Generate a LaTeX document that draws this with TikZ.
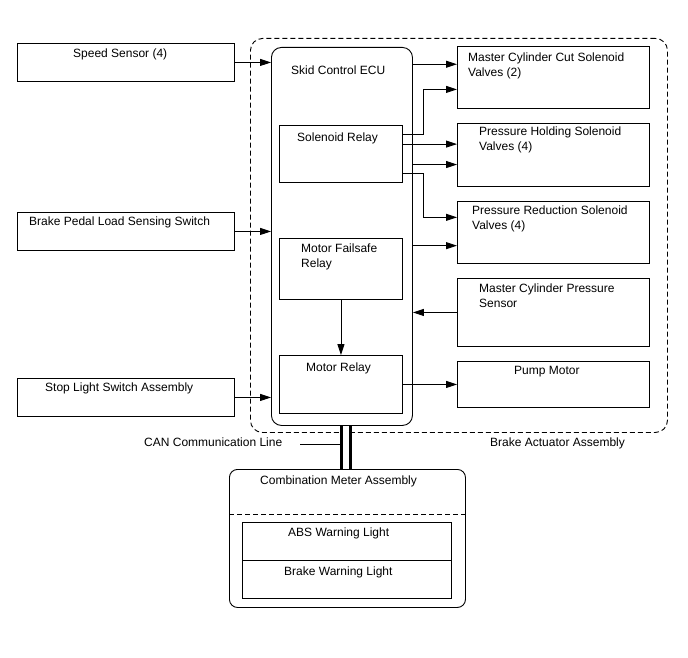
\documentclass[tikz,border=0pt]{standalone}
\usepackage{fontspec}
\setmainfont{Liberation Sans}
\usetikzlibrary{arrows.meta, calc}
\tikzset{
  blk/.style    = {draw, line width=0.9pt, anchor=north west, inner sep=0pt},
  txt/.style    = {anchor=north west, inner sep=0pt, align=left, font=\fontsize{12}{15}\selectfont},
  flecha/.style = {-{Triangle[length=11pt, width=7pt]}, line width=0.9pt},
  linea/.style  = {line width=0.9pt},
  bus/.style    = {line width=3pt, double=white, double distance=6pt}
}

\begin{document}
\begin{tikzpicture}[x=1pt, y=-1pt]
  \useasboundingbox (0,0) rectangle (688,658);

  % actuator and ECU
  \node[blk, dashed, dash pattern=on 5pt off 3pt, rounded corners=12pt,
        minimum width=417pt, minimum height=394pt] (act) at (250,38) {};
  \node[blk, rounded corners=10pt, minimum width=141pt, minimum height=378pt] (ecu) at (271,47) {};
  \node[blk, minimum width=123pt, minimum height=57pt] (sol) at (279,125) {};
  \node[blk, minimum width=123pt, minimum height=61pt] (mfs) at (279,238) {};
  \node[blk, minimum width=123pt, minimum height=58pt] (mrl) at (279,355) {};

  % inputs
  \node[blk, minimum width=217pt, minimum height=38pt] (spd) at (17,43) {};
  \node[blk, minimum width=217pt, minimum height=38pt] (bpl) at (17,212) {};
  \node[blk, minimum width=217pt, minimum height=38pt] (stp) at (17,378) {};

  % outputs
  \node[blk, minimum width=192pt, minimum height=62pt] (mcc) at (457,46) {};
  \node[blk, minimum width=192pt, minimum height=63pt] (phs) at (457,123) {};
  \node[blk, minimum width=192pt, minimum height=62pt] (prs) at (457,201) {};
  \node[blk, minimum width=192pt, minimum height=68pt] (mcp) at (457,278) {};
  \node[blk, minimum width=192pt, minimum height=46pt] (pmp) at (457,361) {};

  % combination meter
  \node[blk, rounded corners=8pt, minimum width=236pt, minimum height=138pt] (comb) at (229,469) {};
  \node[blk, minimum width=209pt, minimum height=38pt] (abs) at (242,522) {};
  \node[blk, minimum width=209pt, minimum height=38pt] (brk) at (242,560) {};
  \draw[linea, dashed, dash pattern=on 5pt off 3pt]
    ($(comb.north west)+(0,45)$) -- ($(comb.north east)+(0,45)$);

  % texts
  \node[txt] (spdT) at (73,49)  {Speed Sensor (4)};
  \node[txt] (bplT) at (29,217) {Brake Pedal Load Sensing Switch};
  \node[txt] (stpT) at (45,383) {Stop Light Switch Assembly};
  \node[txt] (ecuT) at (291,66) {Skid Control ECU};
  \node[txt] (solT) at (297,133) {Solenoid Relay};
  \node[txt] (mfsT) at (301,244) {Motor Failsafe\\Relay};
  \node[txt] (mrlT) at (306,363) {Motor Relay};
  \node[txt] (mccT) at (468,53)  {Master Cylinder Cut Solenoid\\Valves (2)};
  \node[txt] (phsT) at (479,127) {Pressure Holding Solenoid\\Valves (4)};
  \node[txt] (prsT) at (472,206) {Pressure Reduction Solenoid\\Valves (4)};
  \node[txt] (mcpT) at (479,284) {Master Cylinder Pressure\\Sensor};
  \node[txt] (pmpT) at (514,366) {Pump Motor};
  \node[txt] (actT) at (490,438) {Brake Actuator Assembly};
  \node[txt] (canL) at (144,438) {CAN Communication Line};
  \node[txt] (combT) at (260,476) {Combination Meter Assembly};
  \node[txt] (absT) at (288,528) {ABS Warning Light};
  \node[txt] (brkT) at (284,567) {Brake Warning Light};

  % inputs to ECU
  \draw[flecha] (spd.east) -- (spd.east -| ecu.west);
  \draw[flecha] (bpl.east) -- (bpl.east -| ecu.west);
  \draw[flecha] (stp.east) -- (stp.east -| ecu.west);

  % ECU to valves
  \coordinate (mccA) at ($(mcc.north west)!0.29!(mcc.south west)$);
  \coordinate (mccB) at ($(mcc.north west)!0.69!(mcc.south west)$);
  \coordinate (phsB) at ($(phs.north west)!0.65!(phs.south west)$);
  \coordinate (prsA) at ($(prs.north west)!0.26!(prs.south west)$);
  \coordinate (prsB) at ($(prs.north west)!0.71!(prs.south west)$);
  \coordinate (solA) at ($(sol.north east)!0.16!(sol.south east)$);
  \coordinate (solB) at ($(sol.north east)!0.33!(sol.south east)$);
  \coordinate (solC) at ($(sol.north east)!0.84!(sol.south east)$);

  \draw[flecha] (mccA -| ecu.east) -- (mccA);
  \draw[flecha] (solA) -- ++(21,0) |- (mccB);
  \draw[flecha] (solB) -- (solB -| phs.west);
  \draw[flecha] (phsB -| ecu.east) -- (phsB);
  \draw[flecha] (solC) -- ++(21,0) |- (prsA);
  \draw[flecha] (prsB -| ecu.east) -- (prsB);
  \draw[flecha] (mcp.west) -- (mcp.west -| ecu.east);
  \draw[flecha] (mrl.east) -- (mrl.east -| pmp.west);
  \draw[flecha] (mfs.south) -- (mrl.north);

  % CAN
  \coordinate (canT) at ($(ecu.south)+(4.5,0)$);
  \coordinate (canI) at ($(canT)+(-6,0)$);
  \coordinate (canE) at ([xshift=18pt, yshift=-2pt]canL.east);
  \draw[bus] (canT) -- (canT |- comb.north);
  \draw[linea] (canE) -- (canE -| canI);
\end{tikzpicture}
\end{document}
